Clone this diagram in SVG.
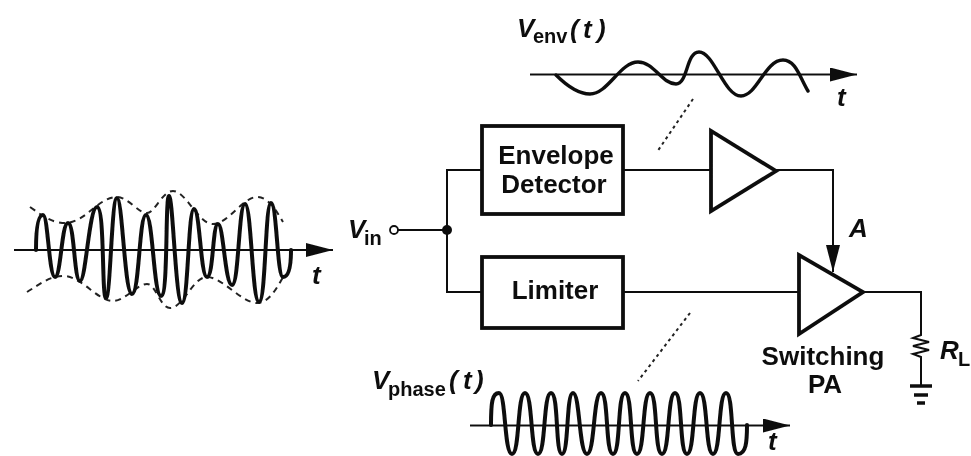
<svg xmlns="http://www.w3.org/2000/svg" width="971" height="456" viewBox="0 0 971 456">
<style>
.w{fill:none;stroke:#111;stroke-width:2}
.b{fill:#fff;stroke:#111;stroke-width:3.8}
.s{fill:none;stroke:#111;stroke-width:4;stroke-linejoin:round;stroke-linecap:round}
.d{fill:none;stroke:#222;stroke-width:2;stroke-dasharray:6 5}
.o{fill:none;stroke:#222;stroke-width:2;stroke-dasharray:3 3.5}
text{font-family:"Liberation Sans",Arial,sans-serif;font-weight:bold;fill:#111;font-size:26px}
.c{text-anchor:middle}
.i{font-style:italic}
.u{font-size:20px;font-style:normal}
</style>
<defs>
<filter id="soft" x="0" y="0" width="100%" height="100%"><feGaussianBlur stdDeviation="0.7"/></filter>
<marker id="a" viewBox="0 0 27 14" refX="27" refY="7" markerWidth="27" markerHeight="14" markerUnits="userSpaceOnUse" orient="auto"><path d="M0 0L27 7L0 14Z" fill="#111"/></marker>
</defs>
<rect width="971" height="456" fill="#fff"/>
<g filter="url(#soft)">
<g id="connectors">
<path class="w" d="M398 230H447M482 170H447V292H482"/>
<path class="w" d="M623 170H711M776 170H833V272" marker-end="url(#a)"/>
<path class="w" d="M623 292H799M863 292H921V335l-8 3 16 4-16 4 16 4-16 4 8 3V386"/>
<circle cx="447" cy="230" r="5" fill="#111"/>
<path class="o" d="M693 99L657 152M690 313L638 381"/>
</g>
<g id="input-waveform">
<path class="w" d="M14 250H333" marker-end="url(#a)"/>
<path class="d" d="M30 207C40 214 48 220 57 222S70 223 77 220C90 214 102 197 117 197C128 197 138 213 147 213C155 213 162 191 173 191C186 191 198 224 213 224C228 224 243 197 257 197C268 197 276 210 283 222"/>
<path class="d" d="M27 292C40 284 50 276 63 276C70 276 75 279 80 282C90 288 102 301 113 301C125 301 137 284 147 284C156 284 160 308 170 308C183 308 193 277 207 277C222 277 242 303 257 303C268 303 276 290 283 277"/>
<path class="s" d="M36 250C36 228 38 215 43 215S49 277 55 277S61.500 223 68 223S74 281 80 281S89 207 97 207S101.500 298 106 298S111.500 198 117 198S124.500 294 132 294S139 215 146 215S153.500 296 161 296S165 196 169 196S175.500 303 182 303S188 209 194 209S200.500 277 207 277S212.500 224 218 224S225 285 232 285S238.500 204 245 204S252 302 259 302S265 203 271 203S277 277 283 277S291 265 291 250"/>
<text class="i" x="312" y="284">t</text>
</g>
<g id="vin">
<circle cx="394" cy="230" r="4" fill="#fff" stroke="#111" stroke-width="1.8"/>
<text class="i" x="348" y="238">V</text><text class="u" x="364" y="245">in</text>
</g>
<g id="envelope-detector">
<rect class="b" x="482" y="126" width="141" height="88"/>
<text class="c" x="556" y="164">Envelope</text>
<text class="c" x="554" y="193">Detector</text>
</g>
<g id="limiter">
<rect class="b" x="482" y="257" width="141" height="71"/>
<text class="c" x="555" y="299">Limiter</text>
</g>
<g id="amplifier">
<path class="b" d="M711 131V211L776 171Z"/>
</g>
<g id="switching-pa">
<path class="b" d="M799 255V334L863 292Z"/>
<text class="c" x="823" y="365">Switching</text>
<text class="c" x="825" y="393">PA</text>
<text class="i" x="849" y="237">A</text>
</g>
<g id="load">
<path class="s" style="stroke-width:3.4;stroke-linecap:butt" d="M910 386H932M914 395H928M917 403H925"/>
<text class="i" x="940" y="359">R</text><text class="u" x="958" y="366">L</text>
</g>
<g id="envelope-waveform">
<path class="w" d="M530 74.500H857" marker-end="url(#a)"/>
<path class="s" style="stroke-width:3.4" d="M556 75C566 85 578 94 590 94C608 94 620 62 638 62C654 62 662 84 676 84C688 84 686 52 699 52C714 52 724 96 741 96C757 96 765 60 783 60C796 60 800 78 808 91"/>
<text class="i" x="517" y="37">V</text><text class="u" x="533" y="43">env</text><text class="i" x="570" y="38">(</text><text class="i" x="583" y="38">t</text><text class="i" x="597" y="38">)</text>
<text class="i" x="837" y="106">t</text>
</g>
<g id="phase-waveform">
<path class="w" d="M470 425.500H790" marker-end="url(#a)"/>
<path class="s" d="M491 425C491 403 492 393 499 393S504 454 512 454S517 393 525 393S530 454 538 454S543 393 551 393S555 454 562 454S566 393 573 393S579 454 587 454S593 393 601 393S605 454 613 454S617 393 625 393S629 454 637 454S642 393 650 393S654 454 662 454S667 393 675 393S679 454 687 454S692 393 700 393S705 454 713 454S718 393 726 393S730 454 738 454S747 442 747 425"/>
<text class="i" x="372" y="389">V</text><text class="u" x="388" y="396">phase</text><text class="i" x="449" y="389">(</text><text class="i" x="463" y="389">t</text><text class="i" x="475" y="389">)</text>
<text class="i" x="768" y="450">t</text>
</g>
</g>
</svg>
